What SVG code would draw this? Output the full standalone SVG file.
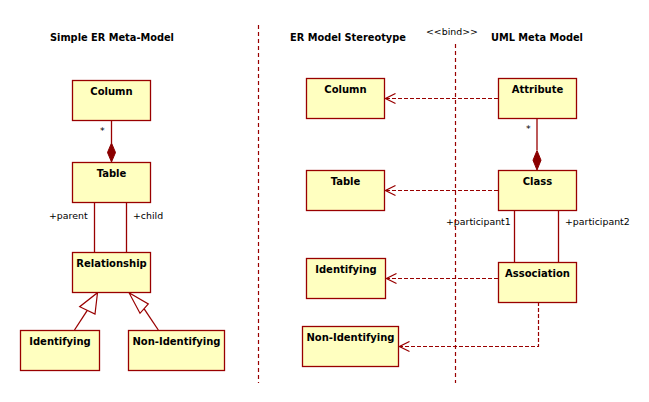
<svg xmlns="http://www.w3.org/2000/svg" width="649" height="402" viewBox="0 0 649 402">
<defs>
<style>
.box{fill:#FFFFC0;stroke:#990000;stroke-width:1.3}
.bt{font-family:"DejaVu Sans",Verdana,sans-serif;font-weight:bold;font-size:10px;fill:#000;text-anchor:middle}
.title{font-family:"DejaVu Sans",Verdana,sans-serif;font-weight:bold;font-size:9.8px;fill:#000}
.lbl{font-family:"DejaVu Sans",Verdana,sans-serif;font-size:9.4px;fill:#000}
.ln{stroke:#990000;stroke-width:1.3;fill:none}
.dash{stroke:#990000;stroke-width:1.2;fill:none;stroke-dasharray:4,2}
.sep{stroke:#990000;stroke-width:1.2;fill:none;stroke-dasharray:4,3}
.dia{fill:#8B0000;stroke:#8B0000;stroke-width:1}
.gen{fill:#fff;stroke:#990000;stroke-width:1.2}
</style>
<marker id="open" markerWidth="12" markerHeight="12" refX="11" refY="6" orient="auto" markerUnits="userSpaceOnUse">
<path d="M1,1 L11,6 L1,11" fill="none" stroke="#990000" stroke-width="1.2"/>
</marker>
</defs>

<g id="titles">
<text class="title" x="50" y="41">Simple ER Meta-Model</text>
<text class="title" x="290" y="41">ER Model Stereotype</text>
<text class="title" x="491" y="41">UML Meta Model</text>
<text class="lbl" x="426" y="35">&lt;&lt;bind&gt;&gt;</text>
</g>

<g id="connector-labels">
<text class="lbl" x="100" y="134">*</text>
<text class="lbl" x="526" y="132">*</text>
<text class="lbl" x="49" y="219">+parent</text>
<text class="lbl" x="133" y="219">+child</text>
<text class="lbl" x="446" y="225">+participant1</text>
<text class="lbl" x="565" y="225">+participant2</text>
</g>

<g id="separators">
<line class="sep" x1="258.5" y1="25" x2="258.5" y2="383"/>
<line class="sep" x1="455.5" y1="44" x2="455.5" y2="383"/>
</g>

<g id="connectors">
<!-- left model -->
<line class="ln" x1="111.5" y1="120" x2="111.5" y2="143"/>
<polygon class="dia" points="111.5,143 115.5,152.5 111.5,162 107.5,152.5"/>
<line class="ln" x1="94.5" y1="202" x2="94.5" y2="252"/>
<line class="ln" x1="126.5" y1="202" x2="126.5" y2="252"/>
<line class="ln" x1="74.5" y1="330" x2="87.3" y2="310.3"/>
<polygon class="gen" points="97.5,292.7 95,314 79.7,306.7"/>
<line class="ln" x1="158.3" y1="330" x2="144" y2="308.6"/>
<polygon class="gen" points="129,292.7 148.3,304 140,313.3"/>
<!-- right model -->
<line class="ln" x1="537" y1="118" x2="537" y2="150"/>
<polygon class="dia" points="537,150.5 541,160.2 537,170 533,160.2"/>
<line class="ln" x1="514.5" y1="210" x2="514.5" y2="262"/>
<line class="ln" x1="558.5" y1="210" x2="558.5" y2="262"/>
<!-- bind dependencies -->
<line class="dash" x1="498" y1="98.5" x2="385.5" y2="98.5" marker-end="url(#open)"/>
<line class="dash" x1="498" y1="190.5" x2="385.5" y2="190.5" marker-end="url(#open)"/>
<line class="dash" x1="498" y1="278.5" x2="386.5" y2="278.5" marker-end="url(#open)"/>
<polyline class="dash" points="538.5,302 538.5,346.5 399.5,346.5" marker-end="url(#open)"/>
</g>

<g id="er-column">
<rect class="box" x="72.5" y="80.5" width="78" height="40"/>
<text class="bt" x="111.5" y="95">Column</text>
</g>
<g id="er-table">
<rect class="box" x="72.5" y="162.5" width="78" height="40"/>
<text class="bt" x="111.5" y="177">Table</text>
</g>
<g id="er-relationship">
<rect class="box" x="72.5" y="252.5" width="78" height="40"/>
<text class="bt" x="111.5" y="267">Relationship</text>
</g>
<g id="er-identifying">
<rect class="box" x="20.5" y="330.5" width="79" height="40"/>
<text class="bt" x="60" y="345">Identifying</text>
</g>
<g id="er-nonidentifying">
<rect class="box" x="128.5" y="330.5" width="96" height="40"/>
<text class="bt" x="176.5" y="345">Non-Identifying</text>
</g>

<g id="st-column">
<rect class="box" x="306.5" y="78.5" width="78" height="40"/>
<text class="bt" x="345.5" y="93">Column</text>
</g>
<g id="st-table">
<rect class="box" x="306.5" y="170.5" width="78" height="40"/>
<text class="bt" x="345.5" y="185">Table</text>
</g>
<g id="st-identifying">
<rect class="box" x="306.5" y="258.5" width="79" height="40"/>
<text class="bt" x="346" y="273">Identifying</text>
</g>
<g id="st-nonidentifying">
<rect class="box" x="302.5" y="326.5" width="96" height="40"/>
<text class="bt" x="350.5" y="341">Non-Identifying</text>
</g>

<g id="uml-attribute">
<rect class="box" x="498.5" y="78.5" width="78" height="40"/>
<text class="bt" x="537.5" y="93">Attribute</text>
</g>
<g id="uml-class">
<rect class="box" x="498.5" y="170.5" width="78" height="40"/>
<text class="bt" x="537.5" y="185">Class</text>
</g>
<g id="uml-association">
<rect class="box" x="498.5" y="262.5" width="78" height="40"/>
<text class="bt" x="537.5" y="277">Association</text>
</g>
</svg>
